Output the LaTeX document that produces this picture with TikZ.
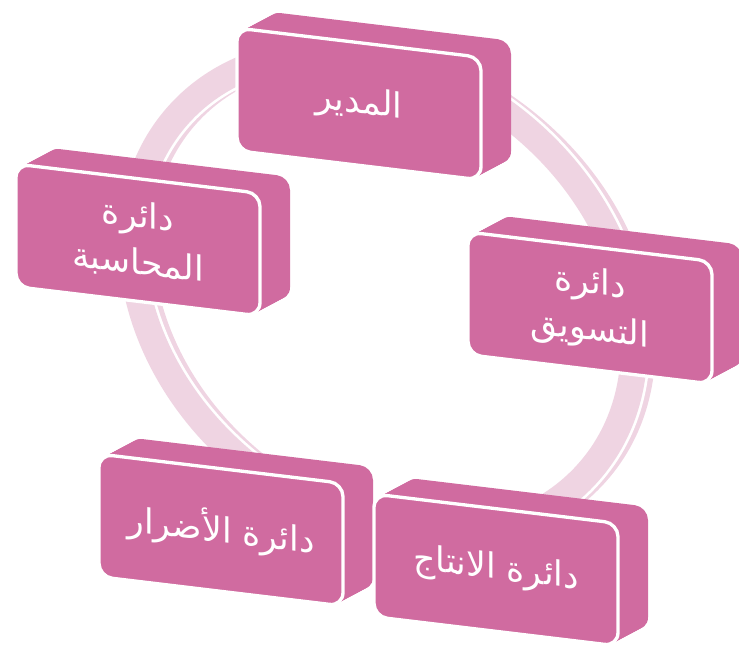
\documentclass[tikz,border=0pt]{standalone}
\usepackage{fontspec}
\newfontfamily\arabicfont[Script=Arabic]{DejaVu Sans}
\TeXXeTstate=1

\definecolor{boxpink}{RGB}{208,107,160}
\definecolor{ringpink}{RGB}{239,212,226}

\tikzstyle{ring} = [draw=ringpink, line width=20pt]
\tikzstyle{ringgap} = [draw=white, line width=24pt]
\tikzstyle{slab} = [fill=boxpink, rounded corners=10pt]
\tikzstyle{face} = [rectangle, rounded corners=10pt, minimum width=183pt, minimum height=92pt, fill=boxpink, draw=white, line width=2.5pt, text=white, align=center, inner sep=0pt, font=\arabicfont\fontsize{26}{35}\selectfont]

\begin{document}
\begin{tikzpicture}[x=0.75pt, y=0.75pt]
    \useasboundingbox (0,0) rectangle (739,-654);

    % ring behind the boxes
    \draw [ring, xshift=6pt, rotate around={-40:(383,-294)}] (383,-294) ellipse [x radius=272, y radius=218];
    \draw [ringgap, rotate around={-40:(383,-294)}] (383,-294) ellipse [x radius=272, y radius=218];
    \draw [ring, rotate around={-40:(383,-294)}] (383,-294) ellipse [x radius=272, y radius=218];

    % boxes
    \foreach \name/\cx/\cy/\txt in {
        mudir/359/104/{\beginR المدير\endR},
        muhasaba/138/240/{\beginR دائرة\endR\\\beginR المحاسبة\endR},
        taswiq/590/308/{\beginR دائرة\endR\\\beginR التسويق\endR},
        adrar/221/530/{\beginR دائرة الأضرار\endR},
        intaj/496/570/{\beginR دائرة الانتاج\endR}} {
        \begin{scope}[shift={(\cx,-\cy)}, yslant=-0.12]
            \foreach \d in {0,...,15}
                \fill [slab] (-122+2*\d,-62+1.3*\d) rectangle (122+2*\d,62+1.3*\d);
            \node (\name) [face, transform shape] at (0,0) {\txt};
        \end{scope}
    }
\end{tikzpicture}
\end{document}
